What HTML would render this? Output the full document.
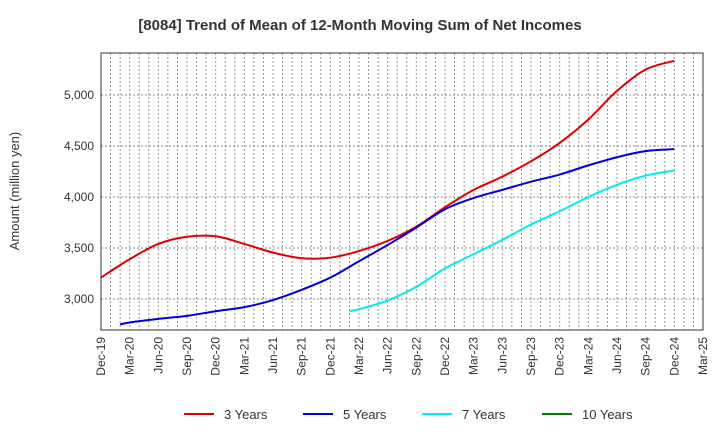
<!DOCTYPE html>
<html><head><meta charset="utf-8"><style>
body{margin:0;background:#fff;font-family:"Liberation Sans",sans-serif;}
</style></head><body>
<svg id="chart" width="720" height="440" xmlns="http://www.w3.org/2000/svg" font-family="Liberation Sans, sans-serif">
<text x="360" y="30" text-anchor="middle" font-size="15" font-weight="bold" fill="#333">[8084]  Trend of Mean of 12-Month Moving Sum of Net Incomes</text>
<text transform="translate(19,191) rotate(-90)" text-anchor="middle" font-size="13" fill="#333">Amount (million yen)</text>
<g id="grid"></g>
<g id="series"></g>
<rect x="101" y="53" width="602" height="277" fill="none" stroke="#333" stroke-width="1"/>
<g id="axes"></g>
<g id="legend"></g>
</svg>
<script>
const xLabels=["Dec-19","Mar-20","Jun-20","Sep-20","Dec-20","Mar-21","Jun-21","Sep-21","Dec-21","Mar-22","Jun-22","Sep-22","Dec-22","Mar-23","Jun-23","Sep-23","Dec-23","Mar-24","Jun-24","Sep-24","Dec-24","Mar-25"];
const yTicks=[3000,3500,4000,4500,5000];
const s3=[3210,3390,3540,3610,3615,3540,3455,3400,3405,3470,3570,3710,3900,4070,4200,4350,4530,4760,5040,5250,5335];
const s3Months=[0,3,6,9,12,15,18,21,24,27,30,33,36,39,42,45,48,51,54,57,60];
const s5=[2750,2770,2805,2835,2880,2920,2990,3090,3210,3370,3530,3700,3880,3990,4070,4150,4220,4310,4390,4450,4470];
const s5Months=[2,3,6,9,12,15,18,21,24,27,30,33,36,39,42,45,48,51,54,57,60];
const s7=[2880,2900,2985,3120,3300,3440,3580,3730,3860,4000,4120,4210,4260];
const s7Months=[26,27,30,33,36,39,42,45,48,51,54,57,60];
const s10=[];
const s10Months=[];
const seriesNames=["3 Years","5 Years","7 Years","10 Years"];
const seriesColors=["#e00000","#0000dd","#00eeee","#008000"];

const NS="http://www.w3.org/2000/svg";
const X0=101,X1=703,Y0=53,Y1=330;
const xq=i=>X0+i*3*(X1-X0)/63;
const xm=m=>X0+m*(X1-X0)/63;
const y=v=>95+(5000-v)*0.102;
function mk(t,a,p){const e=document.createElementNS(NS,t);for(const k in a)e.setAttribute(k,a[k]);p.appendChild(e);return e;}
const grid=document.getElementById('grid'),axes=document.getElementById('axes'),ser=document.getElementById('series'),leg=document.getElementById('legend');
for(let m=1;m<63;m++){const l=mk('line',{x1:xm(m),x2:xm(m),y1:Y0,y2:Y1,stroke:'#999','stroke-dasharray':'2,2'},grid);

}
yTicks.forEach(v=>{const l=mk('line',{x1:X0,x2:X1,y1:y(v),y2:y(v),stroke:'#888','stroke-dasharray':'2,2'},grid);


const t=mk('text',{x:X0-7,y:y(v)+4,'text-anchor':'end','font-size':12,fill:'#333'},axes);t.textContent=v.toLocaleString('en-US');

});
xLabels.forEach((s,i)=>{const t=mk('text',{transform:`translate(${xq(i)+4},${Y1+7}) rotate(-90)`,'text-anchor':'end','font-size':12,fill:'#333'},axes);t.textContent=s;

});
function path(vals,months){if(vals.length<2)return '';const p=vals.map((v,i)=>[xm(months[i]),y(v)]);let d=`M${p[0][0]},${p[0][1]}`;
for(let i=0;i<p.length-1;i++){const a=p[Math.max(0,i-1)],b=p[i],c=p[i+1],e=p[Math.min(p.length-1,i+2)];
d+=` C${b[0]+(c[0]-a[0])/6},${b[1]+(c[1]-a[1])/6} ${c[0]-(e[0]-b[0])/6},${c[1]-(e[1]-b[1])/6} ${c[0]},${c[1]}`;}return d;}
[[s3,s3Months],[s5,s5Months],[s7,s7Months],[s10,s10Months]].forEach(([v,ms],k)=>{const d=path(v,ms);if(!d)return;
const l=mk('path',{d:d,fill:'none',stroke:seriesColors[k],'stroke-width':2},ser);

});
const lx=[184,303,422,542];
seriesNames.forEach((n,k)=>{const g=mk('g',{},leg);


mk('line',{x1:lx[k],x2:lx[k]+30,y1:414,y2:414,stroke:seriesColors[k],'stroke-width':2},g);
const t=mk('text',{x:lx[k]+40,y:419,'font-size':13,fill:'#333'},g);t.textContent=n;});
</script>
</body></html>
